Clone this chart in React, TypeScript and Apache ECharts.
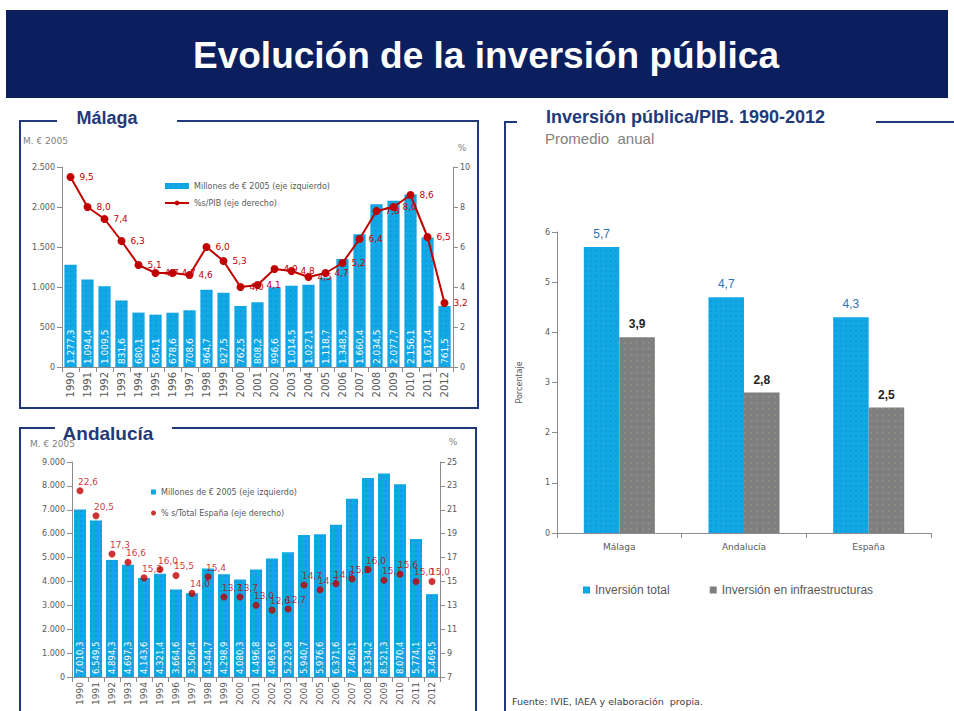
import React, { useEffect, useRef } from 'react';
import * as echarts from 'echarts';

const years = ['1990','1991','1992','1993','1994','1995','1996','1997','1998','1999','2000','2001','2002','2003','2004','2005','2006','2007','2008','2009','2010','2011','2012'];
const malagaInversion = [1277.3,1094.4,1009.5,831.6,680.1,654.1,678.6,708.6,964.7,927.5,762.5,808.2,996.6,1014.5,1027.1,1118.7,1348.5,1660.4,2034.5,2077.7,2156.1,1617.4,761.5];
const malagaPib = [9.5,8.0,7.4,6.3,5.1,4.7,4.7,4.6,6.0,5.3,4.0,4.1,4.9,4.8,4.5,4.7,5.2,6.4,7.8,8.0,8.6,6.5,3.2];
const andaluciaInversion = [7010.3,6549.5,4894.3,4697.3,4143.6,4321.4,3664.6,3506.4,4544.7,4298.9,4080.3,4496.8,4963.6,5223.9,5940.7,5976.6,6371.6,7460.1,8334.2,8521.3,8070.4,5774.1,3469.5];
const andaluciaEspana = [22.6,20.5,17.3,16.6,15.3,16.0,15.5,14.0,15.4,13.7,13.7,13.0,12.6,12.7,14.7,14.3,14.8,15.2,16.0,15.1,15.6,15.0,15.0];
const regiones = ['Málaga','Andalucía','España'];
const inversionTotal = [5.7,4.7,4.3];
const inversionInfra = [3.9,2.8,2.5];

const NAME_BAR = 'Millones de € 2005 (eje izquierdo)';
const NAME_PIB = '%s/PIB (eje derecho)';
const NAME_ESP = '% s/Total España (eje derecho)';
const NAME_TOT = 'Inversión total';
const NAME_INF = 'Inversión en infraestructuras';

const fmtES = (v: number, dec: number) => {
  const s = Number(v).toFixed(dec);
  const parts = s.split('.');
  const ii = parts[0].replace(/\B(?=(\d{3})+(?!\d))/g, '.');
  return parts[1] ? ii + ',' + parts[1] : ii;
};

const BLUE = '#12A8E6';
const GRAY = '#7F7F7F';
const RED = '#C00000';
const NAVY = '#1F3A7A';
const TXT = '#595959';
const AX = '#8C8C8C';
const SMALL = 'DejaVu Sans';

const blueDecal = { symbol: 'circle', symbolSize: 0.7, color: 'rgba(0,70,150,0.35)', dashArrayX: [2, 3], dashArrayY: [2, 3] };
const grayDecal = { symbol: 'circle', symbolSize: 0.7, color: 'rgba(200,200,140,0.45)', dashArrayX: [2, 4], dashArrayY: [2, 4] };

const catAxis = (gridIndex: number, data: string[], fontSize: number) => ({
  type: 'category', gridIndex, data,
  axisLine: { lineStyle: { color: AX } },
  axisTick: { show: true, interval: 0, lineStyle: { color: AX } },
  axisLabel: { interval: 0, rotate: 90, fontSize, color: TXT, fontFamily: SMALL, margin: 5 },
});

const valAxis = (gridIndex: number, min: number, max: number, interval: number, position: string, fmt: (v: number) => string) => ({
  type: 'value', gridIndex, min, max, interval, position,
  splitLine: { show: false },
  axisLine: { show: true, lineStyle: { color: AX } },
  axisTick: { show: true, lineStyle: { color: AX } },
  axisLabel: { fontSize: 8, color: TXT, fontFamily: SMALL, margin: 7, formatter: fmt },
});

export default function App() {
  const ref = useRef<HTMLDivElement>(null);
  useEffect(() => {
    if (!ref.current) return;
    const chart = echarts.init(ref.current, null, { renderer: 'svg' });
    const line = (x1: number, y1: number, x2: number, y2: number) => ({
      type: 'line', shape: { x1, y1, x2, y2 }, style: { stroke: NAVY, lineWidth: 2 }, silent: true,
    });
    const txt = (x: number, y: number, text: string, font: string, fill: string, extra: any = {}) => ({
      type: 'text', x, y, silent: true,
      style: { text, font, fill, textVerticalAlign: 'middle', ...extra },
    });
    const titleText = 'Evolución de la inversión pública';
    const option: any = {
      animation: false,
      backgroundColor: '#ffffff',
      textStyle: { fontFamily: SMALL },
      graphic: [
        { type: 'rect', shape: { x: 6, y: 10, width: 942, height: 88 }, style: { fill: '#0B1F5E' }, silent: true },
        txt(486, 55, titleText, 'bold 37px "Liberation Sans"', '#ffffff', {
          textAlign: 'center', shadowColor: 'rgba(0,0,0,0.9)', shadowBlur: 2, shadowOffsetX: 2, shadowOffsetY: 2,
        }),
        // Málaga panel
        line(20, 121, 57, 121), line(177, 121, 478, 121), line(20, 120, 20, 408), line(478, 120, 478, 408), line(19, 408, 479, 408),
        txt(107, 118, 'Málaga', 'bold 18px "Liberation Sans"', NAVY, { textAlign: 'center' }),
        txt(23, 141, 'M. € 2005', '9px "DejaVu Sans"', '#7f7f7f'),
        txt(462, 148, '%', '9px "DejaVu Sans"', '#7f7f7f', { textAlign: 'center' }),
        // Andalucía panel
        line(20, 428, 55, 428), line(172, 428, 476, 428), line(20, 427, 20, 711), line(476, 427, 476, 711),
        txt(108, 433, 'Andalucía', 'bold 19px "Liberation Sans"', NAVY, { textAlign: 'center' }),
        txt(30, 444, 'M. € 2005', '9px "DejaVu Sans"', '#7f7f7f'),
        txt(453, 442, '%', '9px "DejaVu Sans"', '#7f7f7f', { textAlign: 'center' }),
        // right panel
        line(505, 122, 517, 122), line(876, 122, 954, 122), line(505, 121, 505, 711),
        txt(546, 117, 'Inversión pública/PIB. 1990-2012', 'bold 18px "Liberation Sans"', NAVY),
        txt(545, 138, 'Promedio  anual', '15px "Liberation Sans"', '#7f7f7f'),
        txt(512, 701, 'Fuente: IVIE, IAEA y elaboración  propia.', '9.5px "DejaVu Sans"', '#404040'),
      ],
      legend: [
        {
          left: 159, top: 177, orient: 'vertical', itemWidth: 24, itemHeight: 6, itemGap: 9, selectedMode: false,
          textStyle: { fontSize: 8, color: TXT, fontFamily: SMALL },
          data: [{ name: NAME_BAR, icon: 'rect' }, { name: NAME_PIB }],
        },
        {
          left: 146, top: 483, orient: 'vertical', itemWidth: 5, itemHeight: 5, itemGap: 13, selectedMode: false,
          textStyle: { fontSize: 8, color: TXT, fontFamily: SMALL },
          data: [{ name: NAME_BAR, icon: 'rect' }, { name: NAME_ESP, icon: 'circle' }],
        },
        {
          left: 578, top: 579, orient: 'horizontal', itemWidth: 7, itemHeight: 7, itemGap: 40, selectedMode: false,
          textStyle: { fontSize: 12, color: TXT, fontFamily: 'Liberation Sans' },
          data: [{ name: NAME_TOT, icon: 'rect' }, { name: NAME_INF, icon: 'rect' }],
        },
      ],
      grid: [
        { left: 62, top: 167, width: 391, height: 200 },
        { left: 72, top: 462, width: 368, height: 215 },
        { left: 557, top: 232, width: 374, height: 301 },
      ],
      xAxis: [
        catAxis(0, years, 10),
        catAxis(1, years, 9),
        {
          type: 'category', gridIndex: 2, data: regiones,
          axisLine: { lineStyle: { color: AX } },
          axisTick: { show: true, lineStyle: { color: AX } },
          axisLabel: { fontSize: 9, color: TXT, fontFamily: SMALL, margin: 9 },
        },
      ],
      yAxis: [
        valAxis(0, 0, 2500, 500, 'left', (v) => fmtES(v, 0)),
        valAxis(0, 0, 10, 2, 'right', (v) => String(v)),
        valAxis(1, 0, 9000, 1000, 'left', (v) => fmtES(v, 0)),
        valAxis(1, 7, 25, 2, 'right', (v) => String(v)),
        {
          ...valAxis(2, 0, 6, 1, 'left', (v) => String(v)),
          name: 'Porcentaje', nameLocation: 'middle', nameGap: 34,
          nameTextStyle: { fontSize: 8, color: TXT, fontFamily: SMALL },
        },
      ],
      series: [
        {
          type: 'bar', name: NAME_BAR, xAxisIndex: 0, yAxisIndex: 0, data: malagaInversion,
          barCategoryGap: '28%',
          itemStyle: { color: BLUE, decal: blueDecal },
          label: {
            show: true, position: 'insideBottom', rotate: 90, align: 'left', verticalAlign: 'middle', distance: 3,
            color: '#ffffff', fontSize: 9, fontFamily: SMALL, formatter: (p: any) => fmtES(p.value, 1),
          },
        },
        {
          type: 'line', name: NAME_PIB, xAxisIndex: 0, yAxisIndex: 1, data: malagaPib,
          symbol: 'circle', symbolSize: 8, z: 5,
          itemStyle: { color: RED }, lineStyle: { color: RED, width: 2 },
          label: { show: true, position: 'right', distance: 5, color: RED, fontSize: 9, fontFamily: SMALL, formatter: (p: any) => fmtES(p.value, 1) },
        },
        {
          type: 'bar', name: NAME_BAR, xAxisIndex: 1, yAxisIndex: 2, data: andaluciaInversion,
          barCategoryGap: '25%',
          itemStyle: { color: BLUE, decal: blueDecal },
          label: {
            show: true, position: 'insideBottom', rotate: 90, align: 'left', verticalAlign: 'middle', distance: 3,
            color: '#ffffff', fontSize: 8.5, fontFamily: SMALL, formatter: (p: any) => fmtES(p.value, 1),
          },
        },
        {
          type: 'scatter', name: NAME_ESP, xAxisIndex: 1, yAxisIndex: 3, data: andaluciaEspana,
          symbol: 'circle', symbolSize: 7, z: 5,
          itemStyle: { color: RED },
          label: { show: true, position: 'top', offset: [8, 1], distance: 2, color: RED, fontSize: 9, fontFamily: SMALL, formatter: (p: any) => fmtES(p.value, 1) },
        },
        {
          type: 'bar', name: NAME_TOT, xAxisIndex: 2, yAxisIndex: 4, data: inversionTotal,
          barCategoryGap: '43%', barGap: '0%',
          itemStyle: { color: BLUE, decal: blueDecal },
          label: { show: true, position: 'top', distance: 7, color: '#2E74B5', fontSize: 12, fontFamily: 'Liberation Sans', formatter: (p: any) => fmtES(p.value, 1) },
        },
        {
          type: 'bar', name: NAME_INF, xAxisIndex: 2, yAxisIndex: 4, data: inversionInfra,
          barCategoryGap: '43%', barGap: '0%',
          itemStyle: { color: GRAY, decal: grayDecal },
          label: { show: true, position: 'top', distance: 7, color: '#222222', fontSize: 12, fontWeight: 'bold', fontFamily: 'Liberation Sans', formatter: (p: any) => fmtES(p.value, 1) },
        },
      ],
    };
    chart.setOption(option);
    return () => chart.dispose();
  }, []);
  return <div ref={ref} style={{ position: 'absolute', left: 0, top: 0, width: 954, height: 711 }} />;
}
